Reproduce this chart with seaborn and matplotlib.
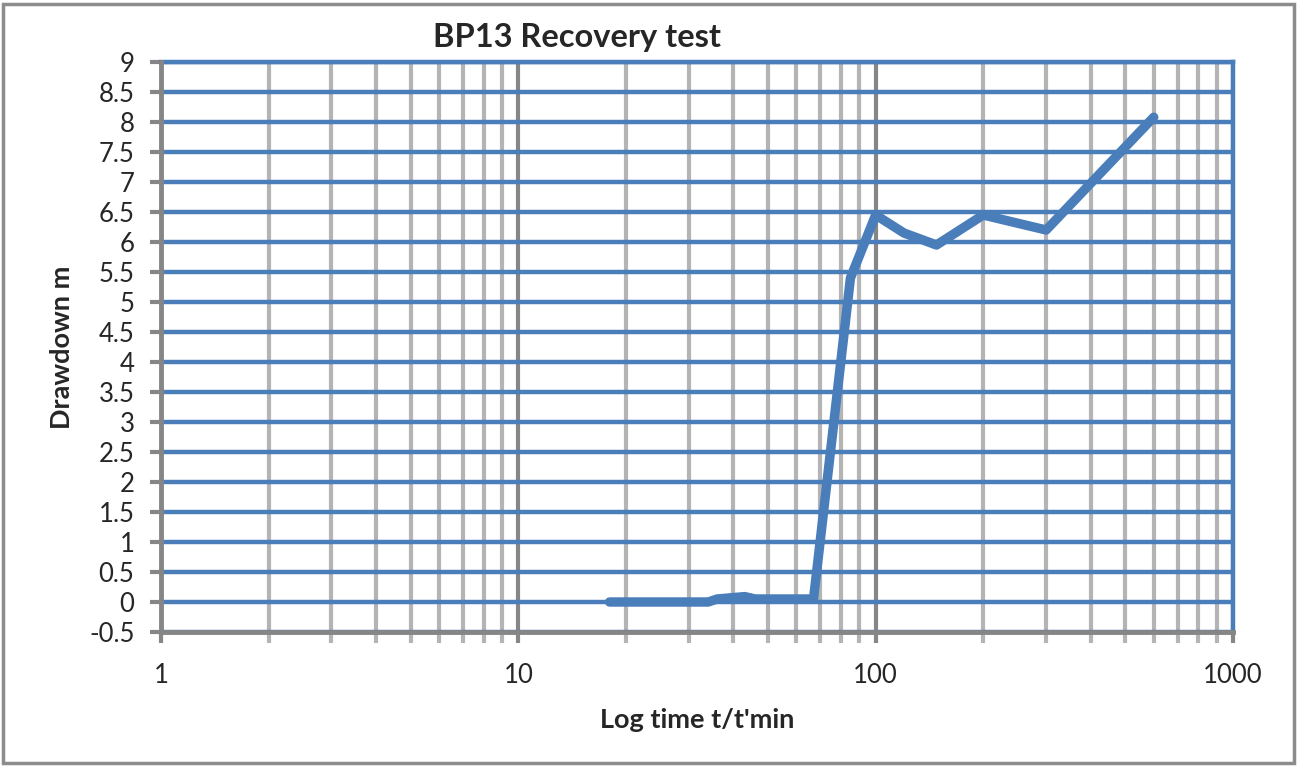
import matplotlib
matplotlib.use("Agg")
import matplotlib.pyplot as plt
from matplotlib.patches import Rectangle
from matplotlib.ticker import LogLocator, FixedLocator, NullFormatter, FixedFormatter
import seaborn as sns
import pandas as pd

# Recovery test readings: time ratio t/t' and residual drawdown (m)
time_ratio = [18, 20, 25, 30, 34, 36, 43, 46, 55, 67, 85, 100, 120, 148, 200, 300, 600]
drawdown = [0, 0, 0, 0, 0, 0.05, 0.09, 0.05, 0.05, 0.05, 5.4, 6.45, 6.15, 5.95, 6.45, 6.2, 8.08]

x_ticks = [1, 10, 100, 1000]
x_tick_labels = ["1", "10", "100", "1000"]
y_ticks = [-0.5, 0, 0.5, 1, 1.5, 2, 2.5, 3, 3.5, 4, 4.5, 5, 5.5, 6, 6.5, 7, 7.5, 8, 8.5, 9]
y_tick_labels = ["-0.5", "0", "0.5", "1", "1.5", "2", "2.5", "3", "3.5", "4", "4.5",
                 "5", "5.5", "6", "6.5", "7", "7.5", "8", "8.5", "9"]

sns.set_style("white")
plt.rcParams["font.family"] = ["Lato", "DejaVu Sans"]

BLUE = "#4a7ebb"
GREY = "#868686"
LIGHT_GREY = "#b4b4b4"

fig = plt.figure(figsize=(12.98, 7.67), dpi=100)
ax = fig.add_axes([161 / 1298, 1 - 632 / 767, (1233 - 161) / 1298, (632 - 62) / 767])

df = pd.DataFrame({"t": time_ratio, "s": drawdown})

ax.set_xscale("log")
ax.set_xlim(1, 1000)
ax.set_ylim(-0.5, 9)

# grid: blue horizontals, grey verticals (darker at each decade)
ax.xaxis.set_major_locator(FixedLocator(x_ticks))
ax.xaxis.set_major_formatter(FixedFormatter(x_tick_labels))
ax.xaxis.set_minor_locator(LogLocator(base=10, subs=range(2, 10)))
ax.xaxis.set_minor_formatter(NullFormatter())
ax.yaxis.set_major_locator(FixedLocator(y_ticks))
ax.yaxis.set_major_formatter(FixedFormatter(y_tick_labels))

ax.grid(True, axis="y", which="major", color=BLUE, lw=3.2, zorder=1)
ax.grid(True, axis="x", which="minor", color=LIGHT_GREY, lw=3.0, zorder=0)
ax.grid(True, axis="x", which="major", color=GREY, lw=3.0, zorder=0)
ax.set_axisbelow(True)

sns.lineplot(data=df, x="t", y="s", ax=ax, sort=False, color=BLUE, lw=6.8,
             solid_capstyle="round", solid_joinstyle="round", zorder=5)

for side in ["left", "bottom"]:
    ax.spines[side].set_color(GREY)
    ax.spines[side].set_linewidth(3.5)
    ax.spines[side].set_zorder(3)
for side in ["top", "right"]:
    ax.spines[side].set_color(BLUE)
    ax.spines[side].set_linewidth(3.2)

ax.tick_params(axis="both", which="both", direction="out", color=GREY, width=3, length=8)
ax.tick_params(axis="y", which="major", labelsize=18.5, pad=11, left=True)
ax.tick_params(axis="x", which="major", labelsize=18.5, pad=14, bottom=True)
ax.tick_params(axis="x", which="minor", color=LIGHT_GREY, bottom=True)

ax.set_xlabel("Log time t/t'min", fontsize=19.5, fontweight="bold", labelpad=15)
ax.set_ylabel("Drawdown m", fontsize=19.5, fontweight="bold", labelpad=11)
fig.text(577 / 1298, 1 - 38 / 767, "BP13 Recovery test", fontsize=23.5, fontweight="bold",
         ha="center", va="center")

# chart frame
fig.patches.append(Rectangle((3 / 1298, 4 / 767), 1291 / 1298, 759 / 767,
                             transform=fig.transFigure, fill=False,
                             edgecolor="#8c8c8c", lw=2.5))

fig.savefig("out.png", dpi=100)
